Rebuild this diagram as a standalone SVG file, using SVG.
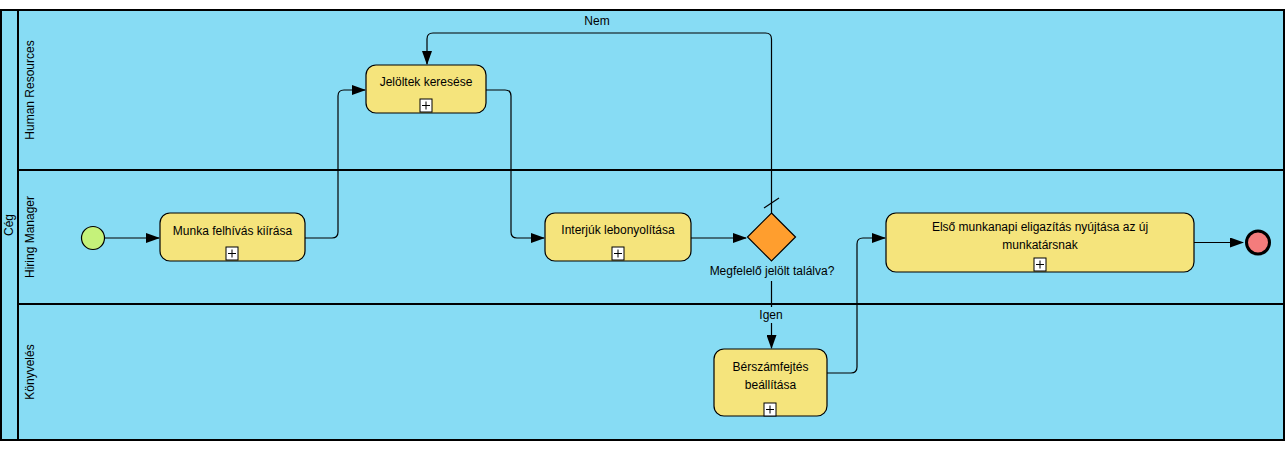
<svg xmlns="http://www.w3.org/2000/svg" width="1285" height="469" viewBox="0 0 1285 469">
<style>
text{font-family:"Liberation Sans",Arial,sans-serif;font-size:12px;fill:#000}
.lane{fill:#87dcf4;stroke:#000;stroke-width:2}
.task{fill:#f5e47c;stroke:#000;stroke-width:1.2}
.mk{fill:#fff;stroke:#000;stroke-width:1}
.flow{fill:none;stroke:#000;stroke-width:1.2}
.c{text-anchor:middle}
</style>
<defs>
<marker id="arr" markerWidth="14" markerHeight="10" refX="13" refY="5" orient="auto" markerUnits="userSpaceOnUse">
<path d="M0,0 L14,5 L0,10 Z" fill="#000"/>
</marker>
</defs>
<g id="pool">
<rect x="1" y="10" width="1283" height="430" class="lane"/>
<line x1="18" y1="10" x2="18" y2="440" stroke="#000" stroke-width="2"/>
<line x1="18" y1="170" x2="1284" y2="170" stroke="#000" stroke-width="2"/>
<line x1="18" y1="304" x2="1284" y2="304" stroke="#000" stroke-width="2"/>
<text class="c" transform="translate(13,225) rotate(-90)">Cég</text>
<text class="c" transform="translate(34,90) rotate(-90)">Human Resources</text>
<text class="c" transform="translate(34,237) rotate(-90)">Hiring Manager</text>
<text class="c" transform="translate(34,372) rotate(-90)">Könyvelés</text>
</g>
<g id="connectors">
<path class="flow" d="M105,238 H159" marker-end="url(#arr)"/>
<path class="flow" d="M305,238 H332 Q338,238 338,232 V96 Q338,90 344,90 H365" marker-end="url(#arr)"/>
<path class="flow" d="M486,90 H505 Q511,90 511,96 V232 Q511,238 517,238 H544" marker-end="url(#arr)"/>
<path class="flow" d="M691,238 H746" marker-end="url(#arr)"/>
<path class="flow" d="M771.5,213 V39 Q771.5,33 765.5,33 H433 Q427,33 427,39 V64" marker-end="url(#arr)"/>
<line x1="764" y1="208" x2="779" y2="198" stroke="#000" stroke-width="1.2"/>
<path class="flow" d="M771.5,281 V307 M771.5,323 V348" marker-end="url(#arr)"/>
<path class="flow" d="M827,373 H851 Q857,373 857,367 V244 Q857,238 863,238 H885" marker-end="url(#arr)"/>
<path class="flow" d="M1194,242.5 H1243" marker-end="url(#arr)"/>
<text class="c" x="597" y="25">Nem</text>
<text class="c" x="771" y="319">Igen</text>
</g>
<g id="start"><circle cx="93" cy="238" r="11.5" fill="#c5f27a" stroke="#000" stroke-width="1.2"/></g>
<g id="task1">
<rect x="160" y="213" width="145" height="48" rx="10" class="task"/>
<text class="c" x="232.5" y="235">Munka felhívás kiírása</text>
<rect x="226" y="247" width="12" height="13" class="mk"/><path d="M228,253.5 H236 M232,249.5 V257.5" stroke="#000"/>
</g>
<g id="task2">
<rect x="366" y="65" width="120" height="48" rx="10" class="task"/>
<text class="c" x="426" y="86">Jelöltek keresése</text>
<rect x="420" y="99" width="12" height="13" class="mk"/><path d="M422,105.5 H430 M426,101.5 V109.5" stroke="#000"/>
</g>
<g id="task3">
<rect x="545" y="213" width="146" height="48" rx="10" class="task"/>
<text class="c" x="618" y="234">Interjúk lebonyolítása</text>
<rect x="612" y="247" width="12" height="13" class="mk"/><path d="M614,253.5 H622 M618,249.5 V257.5" stroke="#000"/>
</g>
<g id="gateway">
<path d="M771.5,213 L795.5,237 L771.5,261 L747.5,237 Z" fill="#ff9e2e" stroke="#000" stroke-width="1.2"/>
<text class="c" x="772" y="275">Megfelelő jelölt találva?</text>
</g>
<g id="task4">
<rect x="714" y="349" width="113" height="67" rx="10" class="task"/>
<text class="c" x="770.5" y="371">Bérszámfejtés</text>
<text class="c" x="770.5" y="389">beállítása</text>
<rect x="764" y="403" width="12" height="13" class="mk"/><path d="M766,409.5 H774 M770,405.5 V413.5" stroke="#000"/>
</g>
<g id="task5">
<rect x="886" y="213" width="308" height="59" rx="10" class="task"/>
<text class="c" x="1040" y="231">Első munkanapi eligazítás nyújtása az új</text>
<text class="c" x="1040" y="249">munkatársnak</text>
<rect x="1034" y="258" width="12" height="13" class="mk"/><path d="M1036,264.5 H1044 M1040,260.5 V268.5" stroke="#000"/>
</g>
<g id="end"><circle cx="1258" cy="242.5" r="11.5" fill="#f47c7c" stroke="#000" stroke-width="3"/></g>
</svg>
